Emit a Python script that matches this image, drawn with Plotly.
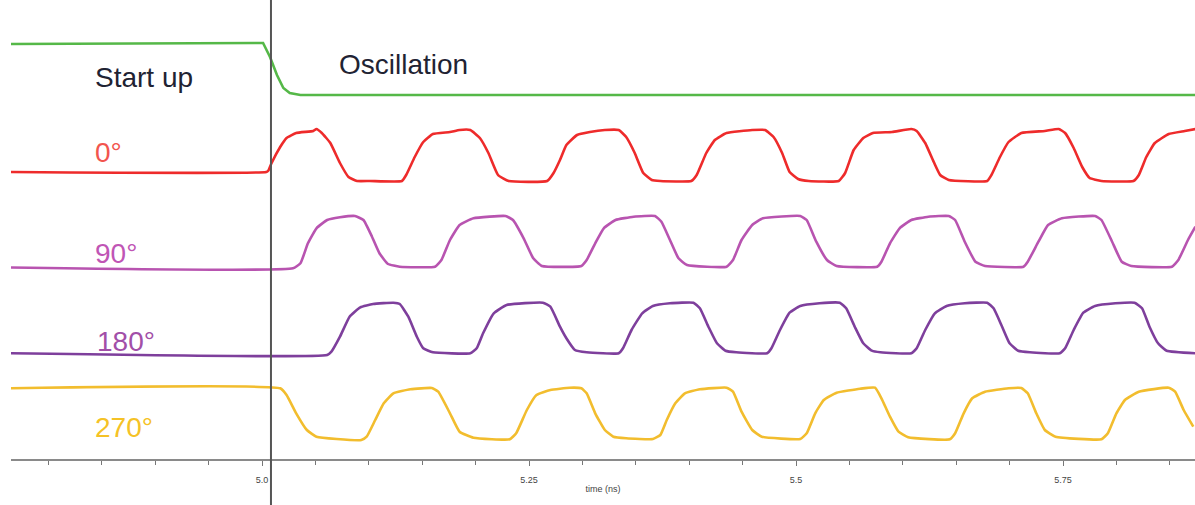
import plotly.graph_objects as go

# ---------------- data (time in ns, signal level in display units) ----------------
startup_end_ns = 5.0084

green_t = [4.764, 5.001, 5.0075, 5.014, 5.020, 5.026, 5.036, 5.874]
green_v = [415, 416, 402, 384, 371, 366, 364, 364]

red_t = [4.764, 5.004, 5.006, 5.009, 5.017, 5.023, 5.032, 5.048, 5.051, 5.056, 5.064, 5.073,
         5.081, 5.089, 5.101, 5.131, 5.135, 5.143, 5.151, 5.160, 5.176, 5.185, 5.195, 5.204,
         5.212, 5.221, 5.231, 5.267, 5.273, 5.279, 5.285, 5.295, 5.307, 5.321, 5.334, 5.341,
         5.349, 5.357, 5.365, 5.373, 5.402, 5.407, 5.416, 5.424, 5.435, 5.459, 5.471, 5.479,
         5.487, 5.494, 5.502, 5.512, 5.540, 5.546, 5.554, 5.563, 5.572, 5.590, 5.608, 5.613,
         5.621, 5.629, 5.635, 5.643, 5.679, 5.683, 5.691, 5.699, 5.711, 5.733, 5.746, 5.752,
         5.760, 5.768, 5.775, 5.786, 5.816, 5.821, 5.828, 5.836, 5.849, 5.864, 5.874]
red_v = [287, 287, 288.5, 296, 312, 321, 326, 328, 330, 326, 316, 296,
         282, 278, 278, 278, 284, 302, 317, 325, 327, 329, 329, 321,
         306, 284, 278, 278, 286, 299, 314, 324, 327, 329, 329, 322,
         306, 286, 279, 278, 278, 284, 306, 319, 326, 329, 329, 322,
         306, 287, 280, 278, 278, 286, 309, 321, 326, 327, 330, 328,
         316, 297, 284, 279, 278, 284, 302, 317, 326, 328, 330, 326,
         311, 292, 281, 278, 278, 284, 302, 316, 325, 328, 330]

p90_t = [4.764, 5.029, 5.036, 5.043, 5.051, 5.061, 5.073, 5.087, 5.095, 5.103, 5.110, 5.118,
         5.129, 5.162, 5.168, 5.176, 5.185, 5.198, 5.228, 5.235, 5.245, 5.254, 5.262, 5.299,
         5.304, 5.312, 5.320, 5.331, 5.348, 5.368, 5.374, 5.382, 5.390, 5.398, 5.435, 5.441,
         5.449, 5.459, 5.469, 5.504, 5.510, 5.519, 5.529, 5.538, 5.576, 5.580, 5.588, 5.597,
         5.608, 5.624, 5.643, 5.649, 5.658, 5.668, 5.677, 5.713, 5.717, 5.727, 5.736, 5.749,
         5.780, 5.786, 5.796, 5.805, 5.814, 5.852, 5.858, 5.867, 5.874]
p90_v = [191.5, 190.7, 195.7, 215.7, 230.7, 239, 241.7, 243, 239, 222.3, 205.7, 195,
         192.3, 192.3, 199, 219, 234, 240.7, 243, 239, 220.7, 200.7, 193, 193,
         199, 215.7, 230.7, 239, 242.3, 243, 237.3, 219, 200.7, 194, 192.3, 199,
         219, 234, 240.7, 243, 239, 217.3, 199, 193, 192.3, 197.3, 215.7, 230.7,
         239, 242.3, 243, 239, 217.3, 197.3, 193, 192.3, 197.3, 217.3, 234, 240.7,
         243, 239, 217.3, 197.3, 193, 192.3, 199, 219, 232.3]

p180_t = [4.764, 5.061, 5.065, 5.073, 5.082, 5.092, 5.104, 5.123, 5.129, 5.137, 5.145, 5.151,
          5.160, 5.195, 5.201, 5.207, 5.217, 5.229, 5.263, 5.270, 5.279, 5.285, 5.293, 5.304,
          5.334, 5.338, 5.346, 5.356, 5.366, 5.382, 5.404, 5.410, 5.418, 5.426, 5.434, 5.444,
          5.473, 5.477, 5.485, 5.494, 5.504, 5.522, 5.541, 5.547, 5.555, 5.563, 5.571, 5.579,
          5.608, 5.613, 5.621, 5.630, 5.641, 5.658, 5.679, 5.685, 5.693, 5.700, 5.708, 5.719,
          5.747, 5.752, 5.760, 5.769, 5.780, 5.799, 5.817, 5.824, 5.831, 5.839, 5.847, 5.874]
p180_v = [105.7, 104, 107.3, 122.3, 142.3, 151.7, 155, 156.3, 155, 142.3, 122.3, 110.7,
          106.7, 105.7, 110.7, 125.7, 145.7, 154, 156.3, 152.3, 132.3, 120.7, 109, 106.7,
          105.7, 110.7, 129, 145.7, 153, 155.7, 156.3, 150.7, 132.3, 115.7, 108.3, 106.7,
          105.7, 110.7, 129, 146.3, 153, 155.7, 156.3, 150.7, 132.3, 115.7, 108.3, 106.7,
          105.7, 110.7, 129, 145.7, 153, 155.7, 156.3, 150.7, 132.3, 115.7, 108.3, 106.7,
          105.7, 110.7, 129, 146.3, 153, 155.7, 156.3, 150.7, 132.3, 115.7, 108.3, 105.7]

p270_t = [4.764, 5.017, 5.023, 5.032, 5.042, 5.051, 5.070, 5.093, 5.098, 5.106, 5.114, 5.123,
          5.139, 5.159, 5.165, 5.176, 5.185, 5.198, 5.232, 5.238, 5.248, 5.257, 5.270, 5.288,
          5.299, 5.304, 5.312, 5.321, 5.329, 5.341, 5.366, 5.373, 5.379, 5.387, 5.396, 5.410,
          5.435, 5.441, 5.449, 5.459, 5.468, 5.504, 5.510, 5.518, 5.526, 5.538, 5.560, 5.574,
          5.580, 5.588, 5.596, 5.605, 5.644, 5.649, 5.657, 5.665, 5.677, 5.699, 5.711, 5.717,
          5.725, 5.733, 5.743, 5.786, 5.792, 5.800, 5.808, 5.821, 5.849, 5.855, 5.863, 5.872]
p270_v = [70.7, 70.7, 64, 45.7, 29, 22.3, 20, 19, 22.3, 39, 55.7, 65.7,
          69.7, 71, 67.3, 45.7, 27.3, 21.3, 19.7, 25.7, 49, 64, 69, 71.3,
          70.7, 65.7, 45.7, 29, 22.3, 20.7, 20, 24, 39, 55.7, 65.7, 69.7,
          71.3, 67.3, 47.3, 29, 22.3, 20, 25.7, 45.7, 59, 66.3, 70.3, 71.3,
          60.7, 42.3, 27.3, 21.7, 19.7, 25.7, 45.7, 60.7, 67.3, 70.7, 71, 65.7,
          45.7, 29, 22.3, 19.7, 25.7, 45.7, 59, 67.3, 71.3, 67.3, 49, 32.3]

tick_vals = [5.0, 5.25, 5.5, 5.75]
tick_text = ["5.0", "5.25", "5.5", "5.75"]

# ---------------- styling ----------------
series = [
    (green_t, green_v, "#55B848", "linear"),
    (red_t, red_v, "#EE2B2B", "spline"),
    (p90_t, p90_v, "#B854B0", "spline"),
    (p180_t, p180_v, "#7E3F9C", "spline"),
    (p270_t, p270_v, "#F2BD2E", "spline"),
]

fig = go.Figure()
for t, v, c, shp in series:
    ln = dict(color=c, width=2.6, shape=shp)
    if shp == "spline":
        ln["smoothing"] = 0.4
    fig.add_trace(go.Scatter(x=t, y=v, mode="lines", line=ln,
                             hoverinfo="skip", showlegend=False))

labels = [
    ("Start up", 4.842, 382, "#1F2333"),
    ("Oscillation", 5.0702, 394.5, "#1F2333"),
    ("0°", 4.842, 306.5, "#F2554E"),
    ("90°", 4.842, 205.5, "#C055B5"),
    ("180°", 4.844, 118, "#A24FA8"),
    ("270°", 4.842, 31.5, "#F5C226"),
]
for txt, x, y, col in labels:
    fig.add_annotation(x=x, y=y, xref="x", yref="y", text=txt, showarrow=False,
                       xanchor="left", yanchor="middle",
                       font=dict(family="Liberation Sans, Arial, sans-serif", size=28, color=col))

fig.add_shape(type="line", xref="x", yref="paper", x0=startup_end_ns, x1=startup_end_ns,
              y0=-0.11, y1=1.0, line=dict(color="#555555", width=2), layer="above")

fig.update_layout(
    width=1195, height=505,
    margin=dict(l=11, r=0, t=0, b=46),
    paper_bgcolor="white", plot_bgcolor="white",
    hovermode=False,
    xaxis=dict(range=[4.76498, 5.8736], showgrid=False, zeroline=False,
               showline=True, linecolor="#8a8a8a", linewidth=1.5,
               ticks="outside", ticklen=5, tickcolor="#777777", tickwidth=1,
               tickvals=tick_vals, ticktext=tick_text,
               tickfont=dict(family="Liberation Sans, Arial, sans-serif", size=9, color="#444444"),
               ticklabelstandoff=6,
               minor=dict(dtick=0.05, tick0=5.0, ticks="outside", ticklen=4,
                          tickcolor="#777777", showgrid=False),
               title=dict(text="time (ns)", standoff=2,
                          font=dict(family="Liberation Sans, Arial, sans-serif", size=9, color="#444444"))),
    yaxis=dict(range=[0, 459], visible=False, showgrid=False, zeroline=False),
)

fig.write_html("out.html", config={"displayModeBar": False},
               post_script="document.body.style.margin='0px';")
